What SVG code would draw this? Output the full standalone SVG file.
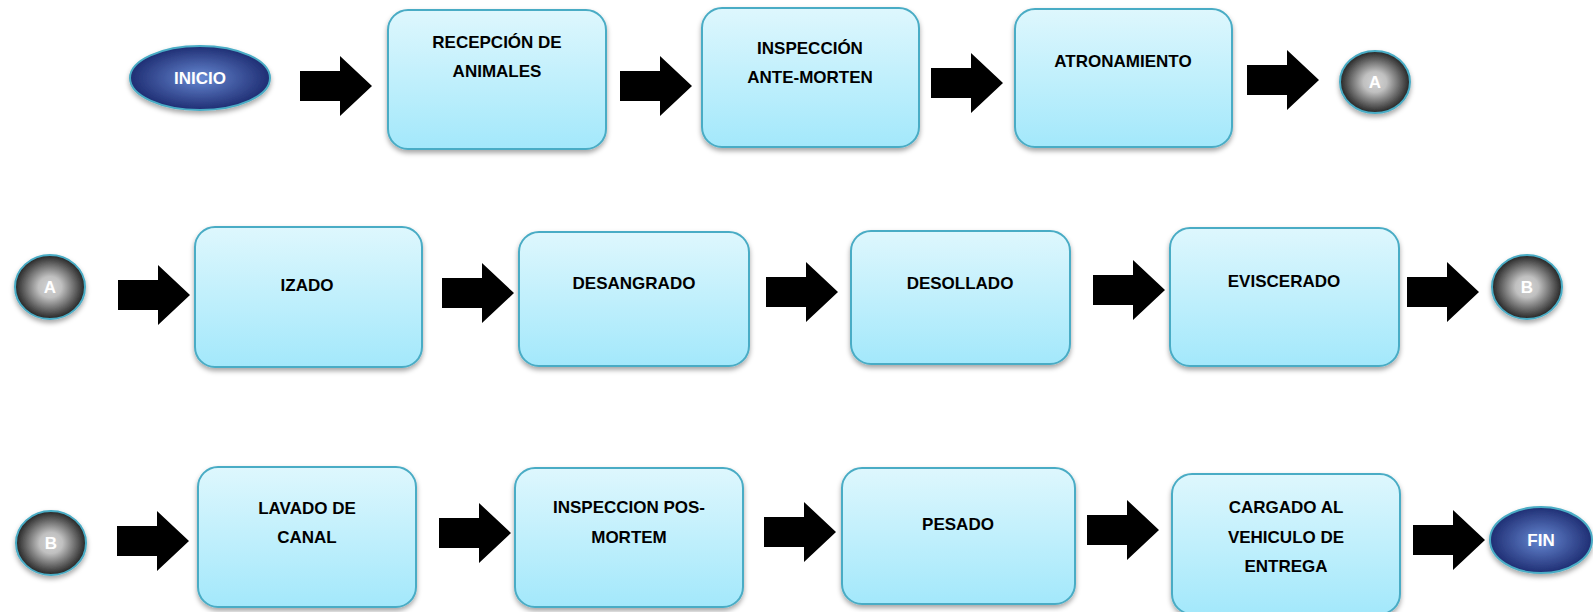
<svg xmlns="http://www.w3.org/2000/svg" xmlns:xlink="http://www.w3.org/1999/xlink" width="1593" height="612" viewBox="0 0 1593 612">
<defs>
<linearGradient id="boxg" x1="0" y1="0" x2="0" y2="1">
<stop offset="0" stop-color="#def7fd"/>
<stop offset="1" stop-color="#a3e8fb"/>
</linearGradient>
<radialGradient id="blueg" cx="0.5" cy="0.5" r="0.55">
<stop offset="0" stop-color="#6688d2"/>
<stop offset="1" stop-color="#18256a"/>
</radialGradient>
<radialGradient id="grayg" cx="0.5" cy="0.5" r="0.55">
<stop offset="0" stop-color="#d4d4d4"/>
<stop offset="0.3" stop-color="#c0c0c0"/>
<stop offset="1" stop-color="#0d0d0d"/>
</radialGradient>
<filter id="sh" x="-10%" y="-10%" width="120%" height="130%">
<feDropShadow dx="0" dy="3" stdDeviation="2.5" flood-color="#000" flood-opacity="0.35"/>
</filter>
<path id="arr" d="M0,-15 L40,-15 L40,-30 L72,0 L40,30 L40,15 L0,15 Z" fill="#000"/>
</defs>
<style>
.box{fill:url(#boxg);stroke:#4aacc5;stroke-width:2;filter:url(#sh)}
.oval{fill:url(#blueg);stroke:#4aacc5;stroke-width:2;filter:url(#sh)}
.circ{fill:url(#grayg);stroke:#4aacc5;stroke-width:2;filter:url(#sh)}
.t{font-family:"Liberation Sans",Arial,sans-serif;font-weight:bold;font-size:17px;fill:#000;text-anchor:middle}
.w{font-family:"Liberation Sans",Arial,sans-serif;font-weight:bold;font-size:17px;fill:#fff;text-anchor:middle}
</style>
<rect width="1593" height="612" fill="#fff"/>
<g id="connectors">
<use xlink:href="#arr" x="300" y="86"/>
<use xlink:href="#arr" x="620" y="86"/>
<use xlink:href="#arr" x="931" y="83"/>
<use xlink:href="#arr" x="1247" y="80"/>
<use xlink:href="#arr" x="118" y="295"/>
<use xlink:href="#arr" x="442" y="293"/>
<use xlink:href="#arr" x="766" y="292"/>
<use xlink:href="#arr" x="1093" y="290"/>
<use xlink:href="#arr" x="1407" y="292"/>
<use xlink:href="#arr" x="117" y="541"/>
<use xlink:href="#arr" x="439" y="533"/>
<use xlink:href="#arr" x="764" y="532"/>
<use xlink:href="#arr" x="1087" y="530"/>
<use xlink:href="#arr" x="1413" y="540"/>
</g>
<g id="inicio">
<ellipse class="oval" cx="200" cy="78" rx="70" ry="32"/>
<text class="w" x="200" y="84">INICIO</text>
</g>
<g id="recepcion">
<rect class="box" x="388" y="10" width="218" height="139" rx="20"/>
<text class="t" x="497" y="48">RECEPCIÓN DE</text>
<text class="t" x="497" y="77">ANIMALES</text>
</g>
<g id="inspeccion-ante">
<rect class="box" x="702" y="8" width="217" height="139" rx="20"/>
<text class="t" x="810" y="54">INSPECCIÓN</text>
<text class="t" x="810" y="83">ANTE-MORTEN</text>
</g>
<g id="atronamiento">
<rect class="box" x="1015" y="9" width="217" height="138" rx="20"/>
<text class="t" x="1123" y="67">ATRONAMIENTO</text>
</g>
<g id="conector-a1">
<ellipse class="circ" cx="1375" cy="82" rx="35" ry="31"/>
<text class="w" x="1375" y="88">A</text>
</g>
<g id="conector-a2">
<ellipse class="circ" cx="50" cy="287" rx="35" ry="32"/>
<text class="w" x="50" y="293">A</text>
</g>
<g id="izado">
<rect class="box" x="195" y="227" width="227" height="140" rx="20"/>
<text class="t" x="307" y="291">IZADO</text>
</g>
<g id="desangrado">
<rect class="box" x="519" y="232" width="230" height="134" rx="20"/>
<text class="t" x="634" y="289">DESANGRADO</text>
</g>
<g id="desollado">
<rect class="box" x="851" y="231" width="219" height="133" rx="20"/>
<text class="t" x="960" y="289">DESOLLADO</text>
</g>
<g id="eviscerado">
<rect class="box" x="1170" y="228" width="229" height="138" rx="20"/>
<text class="t" x="1284" y="287">EVISCERADO</text>
</g>
<g id="conector-b1">
<ellipse class="circ" cx="1527" cy="287" rx="35" ry="32"/>
<text class="w" x="1527" y="293">B</text>
</g>
<g id="conector-b2">
<ellipse class="circ" cx="51" cy="543" rx="35" ry="32"/>
<text class="w" x="51" y="549">B</text>
</g>
<g id="lavado">
<rect class="box" x="198" y="467" width="218" height="140" rx="20"/>
<text class="t" x="307" y="514">LAVADO DE</text>
<text class="t" x="307" y="543">CANAL</text>
</g>
<g id="inspeccion-pos">
<rect class="box" x="515" y="468" width="228" height="139" rx="20"/>
<text class="t" x="629" y="513">INSPECCION POS-</text>
<text class="t" x="629" y="543">MORTEM</text>
</g>
<g id="pesado">
<rect class="box" x="842" y="468" width="233" height="136" rx="20"/>
<text class="t" x="958" y="530">PESADO</text>
</g>
<g id="cargado">
<rect class="box" x="1172" y="474" width="228" height="140" rx="20"/>
<text class="t" x="1286" y="513">CARGADO AL</text>
<text class="t" x="1286" y="543">VEHICULO DE</text>
<text class="t" x="1286" y="572">ENTREGA</text>
</g>
<g id="fin">
<ellipse class="oval" cx="1541" cy="540" rx="51" ry="33"/>
<text class="w" x="1541" y="546">FIN</text>
</g>
</svg>
